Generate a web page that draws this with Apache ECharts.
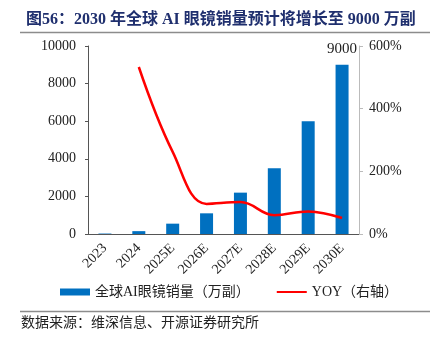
<!DOCTYPE html>
<html>
<head>
<meta charset="utf-8">
<script src="https://cdn.jsdelivr.net/npm/echarts@6/dist/echarts.min.js"></script>
<style>
html, body { margin: 0; padding: 0; background: #fff; }
#container { width: 439px; height: 337px; }
</style>
</head>
<body>
<div id="container"></div>
<script>
var years = ['2023', '2024', '2025E', '2026E', '2027E', '2028E', '2029E', '2030E'];
var sales = [24, 152, 550, 1100, 2200, 3500, 6000, 9000];   // 万副
var yoy = [null, 533, 262, 96, 102, 60, 72, 51];            // %

var serif = '"Liberation Serif", "Times New Roman", "Noto Sans CJK SC", serif';

var myChart = echarts.init(document.getElementById('container'));

var option = {
    animation: false,
    backgroundColor: '#fff',
    title: {
        text: '图56：2030 年全球 AI 眼镜销量预计将增长至 9000 万副',
        left: 21,
        top: 7,
        textStyle: {
            color: '#1f2f6e',
            fontSize: 16,
            fontWeight: 'bold',
            fontFamily: '"Liberation Serif", "Noto Sans CJK SC", serif'
        }
    },
    graphic: [
        { type: 'line', shape: { x1: 20, y1: 32.5, x2: 430, y2: 32.5 }, style: { stroke: '#8c8c8c', lineWidth: 1.5 } },
        { type: 'line', shape: { x1: 20, y1: 311.5, x2: 430, y2: 311.5 }, style: { stroke: '#8c8c8c', lineWidth: 1.5 } },
        {
            type: 'text', left: 21, top: 315,
            style: { text: '数据来源：维深信息、开源证券研究所', fill: '#222', font: '14px "Noto Sans CJK SC", serif' }
        }
    ],
    legend: {
        bottom: 33,
        left: 55,
        itemGap: 26,
        itemWidth: 30,
        itemHeight: 7,
        textStyle: { fontSize: 14, color: '#222', fontFamily: serif },
        data: [
            { name: '全球AI眼镜销量（万副）', icon: 'rect' },
            { name: 'YOY（右轴）', itemStyle: { color: 'transparent', borderColor: 'transparent', borderWidth: 0, opacity: 0 } }
        ]
    },
    grid: { left: 88, right: 80, top: 46, bottom: 103 },
    xAxis: {
        type: 'category',
        data: years,
        axisLine: { lineStyle: { color: '#555' } },
        axisTick: { inside: true, length: 4, lineStyle: { color: '#777' } },
        axisLabel: { rotate: 45, color: '#222', fontSize: 14, fontFamily: serif, margin: 12 }
    },
    yAxis: [
        {
            type: 'value',
            min: 0, max: 10000, interval: 2000,
            splitLine: { show: false },
            axisLine: { show: true, lineStyle: { color: '#555' } },
            axisTick: { show: true, length: 3, lineStyle: { color: '#555' } },
            axisLabel: {
                color: '#222', fontSize: 14, fontFamily: serif, margin: 12,
                formatter: function (v) { return String(v); }
            }
        },
        {
            type: 'value',
            min: 0, max: 600, interval: 200,
            splitLine: { show: false },
            axisLine: { show: true, lineStyle: { color: '#bbb' } },
            axisTick: { show: true, length: 4, lineStyle: { color: '#bbb' } },
            axisLabel: { color: '#222', fontSize: 14, fontFamily: serif, margin: 10, formatter: '{value}%' }
        }
    ],
    series: [
        {
            name: '全球AI眼镜销量（万副）',
            type: 'bar',
            data: sales.map(function (v, i) {
                return i === sales.length - 1
                    ? { value: v, label: { show: true, position: 'top', distance: 8, color: '#222', fontSize: 15, fontFamily: serif } }
                    : v;
            }),
            barWidth: 13,
            itemStyle: { color: '#0070c0' }
        },
        {
            name: 'YOY（右轴）',
            type: 'line',
            yAxisIndex: 1,
            data: yoy,
            smooth: 0.4,
            showSymbol: false,
            symbol: 'none',
            lineStyle: { color: '#ff0000', width: 2.5 },
            itemStyle: { color: '#ff0000' }
        }
    ]
};

myChart.setOption(option, true);
</script>
</body>
</html>
